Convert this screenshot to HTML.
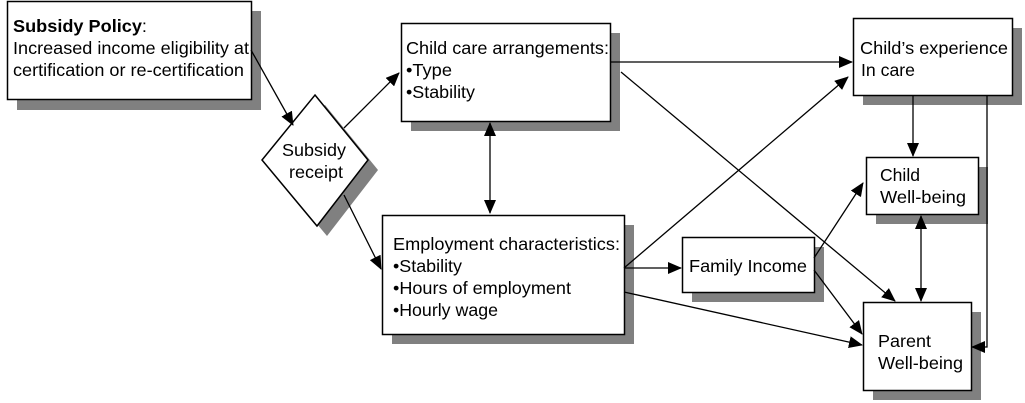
<!DOCTYPE html>
<html><head><meta charset="utf-8"><style>
html,body{margin:0;padding:0;background:#fff;width:1025px;height:403px;overflow:hidden}
text{font-family:"Liberation Sans",sans-serif;font-size:17.5px;fill:#000}
</style></head><body>
<svg width="1025" height="403" xmlns="http://www.w3.org/2000/svg">
<defs><marker id="a" markerWidth="14" markerHeight="12" refX="13" refY="6" orient="auto" markerUnits="userSpaceOnUse"><path d="M0,0 L14,6 L0,12 z" fill="#000"/></marker>
<marker id="b" markerWidth="14" markerHeight="12" refX="1" refY="6" orient="auto" markerUnits="userSpaceOnUse"><path d="M14,0 L0,6 L14,12 z" fill="#000"/></marker></defs>
<g fill="#808080">
<rect x="17" y="11" width="244" height="99"/>
<polygon points="325,105 378,170 327,236 272,170"/>
<rect x="411" y="33" width="209" height="98"/>
<rect x="392" y="225" width="242" height="119"/>
<rect x="692" y="247" width="132" height="55"/>
<rect x="863" y="28" width="159" height="77"/>
<rect x="876" y="167" width="112" height="57"/>
<rect x="873" y="312" width="108" height="88"/>
</g>
<g fill="#fff" stroke="#000" stroke-width="1.5">
<rect x="7.5" y="1.5" width="244" height="98"/>
<polygon points="315,95 368,160 317,226 262,160"/>
<rect x="401.5" y="23.5" width="209" height="98"/>
<rect x="382.5" y="215.5" width="242" height="119"/>
<rect x="682.5" y="237.5" width="132" height="55"/>
<rect x="853.5" y="18.5" width="159" height="77"/>
<rect x="866.5" y="157.5" width="112" height="57"/>
<rect x="863.5" y="302.5" width="108" height="88"/>
</g>
<g stroke="#000" stroke-width="1.3" fill="none" marker-end="url(#a)">
<line x1="251" y1="50" x2="293" y2="125"/>
<line x1="344" y1="128" x2="399" y2="73"/>
<line x1="344" y1="195" x2="381" y2="269"/>
<line x1="490" y1="123" x2="490" y2="213" marker-start="url(#b)"/>
<line x1="610" y1="62" x2="852" y2="62"/>
<line x1="621" y1="72" x2="895" y2="301"/>
<line x1="624" y1="268" x2="848" y2="77"/>
<line x1="624" y1="268" x2="681" y2="268"/>
<line x1="624" y1="292" x2="862" y2="345"/>
<line x1="814" y1="258" x2="863" y2="183"/>
<line x1="814" y1="270" x2="862" y2="334"/>
<line x1="913" y1="95" x2="913" y2="156"/>
<line x1="921" y1="216" x2="921" y2="301" marker-start="url(#b)"/>
<polyline points="987,95 987,347 972,347"/>
</g>
<text x="13" y="32" textLength="134" lengthAdjust="spacingAndGlyphs"><tspan font-weight="bold">Subsidy Policy</tspan>:</text>
<text x="13" y="54" textLength="236" lengthAdjust="spacingAndGlyphs">Increased income eligibility at</text>
<text x="13" y="76" textLength="231" lengthAdjust="spacingAndGlyphs">certification or re-certification</text>
<text x="282" y="156" textLength="64" lengthAdjust="spacingAndGlyphs">Subsidy</text>
<text x="289" y="178" textLength="54" lengthAdjust="spacingAndGlyphs">receipt</text>
<text x="406" y="54" textLength="203" lengthAdjust="spacingAndGlyphs">Child care arrangements:</text>
<text x="406" y="76" textLength="46" lengthAdjust="spacingAndGlyphs">•Type</text>
<text x="406" y="98" textLength="69" lengthAdjust="spacingAndGlyphs">•Stability</text>
<text x="393" y="250" textLength="227" lengthAdjust="spacingAndGlyphs">Employment characteristics:</text>
<text x="393" y="272" textLength="69" lengthAdjust="spacingAndGlyphs">•Stability</text>
<text x="393" y="294" textLength="178" lengthAdjust="spacingAndGlyphs">•Hours of employment</text>
<text x="393" y="316" textLength="105" lengthAdjust="spacingAndGlyphs">•Hourly wage</text>
<text x="689" y="272" textLength="118" lengthAdjust="spacingAndGlyphs">Family Income</text>
<text x="860" y="54" textLength="148" lengthAdjust="spacingAndGlyphs">Child’s experience</text>
<text x="861" y="76" textLength="54" lengthAdjust="spacingAndGlyphs">In care</text>
<text x="880" y="181" textLength="40" lengthAdjust="spacingAndGlyphs">Child</text>
<text x="880" y="203" textLength="86" lengthAdjust="spacingAndGlyphs">Well-being</text>
<text x="878" y="347" textLength="53" lengthAdjust="spacingAndGlyphs">Parent</text>
<text x="878" y="369" textLength="85" lengthAdjust="spacingAndGlyphs">Well-being</text>
</svg>
</body></html>
